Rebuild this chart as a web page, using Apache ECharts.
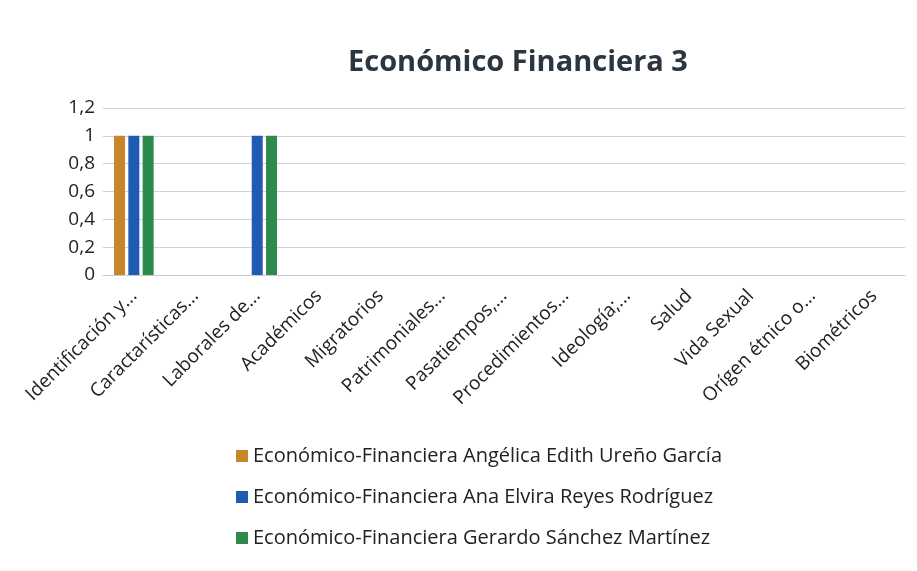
<!DOCTYPE html>
<html>
<head>
<meta charset="utf-8">
<script src="https://cdn.jsdelivr.net/npm/echarts@6/dist/echarts.min.js"></script>
<style>
  html, body { margin: 0; padding: 0; background: #fff; }
  #chart { width: 917px; height: 571px; }
</style>
</head>
<body>
<div id="chart"></div>
<script>
var categories = ['Identificación y...', 'Caractarísticas...', 'Laborales de...', 'Académicos',
    'Migratorios', 'Patrimoniales...', 'Pasatiempos,...', 'Procedimientos...', 'Ideología;...',
    'Salud', 'Vida Sexual', 'Orígen étnico o...', 'Biométricos'];
var seriesNames = [
    'Económico-Financiera Angélica Edith Ureño García',
    'Económico-Financiera Ana Elvira Reyes Rodríguez',
    'Económico-Financiera Gerardo Sánchez Martínez'
];
var ureno   = [1, 0, 0, 0, 0, 0, 0, 0, 0, 0, 0, 0, 0];
var reyes   = [1, 0, 1, 0, 0, 0, 0, 0, 0, 0, 0, 0, 0];
var sanchez = [1, 0, 1, 0, 0, 0, 0, 0, 0, 0, 0, 0, 0];
var colors = ['#c8862a', '#1f5bb0', '#2e8a4c'];

var chart = echarts.init(document.getElementById('chart'));
var font = 'Open Sans';

var option = {
    backgroundColor: '#fff',
    color: colors,
    title: {
        text: 'Económico Financiera 3',
        left: 343,
        top: 43,
        textStyle: { fontFamily: font, fontSize: 29, fontWeight: 'bold', color: '#2b3640' }
    },
    legend: {
        orient: 'vertical',
        left: 231,
        top: 441,
        itemWidth: 12,
        itemHeight: 12,
        itemGap: 21,
        icon: 'rect',
        textStyle: { fontFamily: font, fontSize: 20, color: '#222' },
        data: seriesNames
    },
    grid: { left: 103, right: 12, top: 108, bottom: 296 },
    xAxis: {
        type: 'category',
        data: categories,
        axisLine: { lineStyle: { color: '#c8c8d0' } },
        axisTick: { show: false },
        axisLabel: {
            interval: 0,
            rotate: 45,
            margin: 18,
            fontFamily: font,
            fontSize: 19,
            color: '#222'
        }
    },
    yAxis: {
        type: 'value',
        min: 0,
        max: 1.2,
        interval: 0.2,
        axisLine: { show: false },
        axisTick: { show: false },
        splitLine: { lineStyle: { color: '#d0d0da' } },
        axisLabel: {
            margin: 8,
            fontFamily: font,
            fontSize: 19,
            color: '#222',
            formatter: function (v) { return String(Math.round(v * 10) / 10).replace('.', ','); }
        }
    },
    series: [
        { name: seriesNames[0], type: 'bar', data: ureno, barWidth: 11, barGap: '30%' },
        { name: seriesNames[1], type: 'bar', data: reyes, barWidth: 11, barGap: '30%' },
        { name: seriesNames[2], type: 'bar', data: sanchez, barWidth: 11, barGap: '30%' }
    ]
};

chart.setOption(option);
</script>
</body>
</html>
